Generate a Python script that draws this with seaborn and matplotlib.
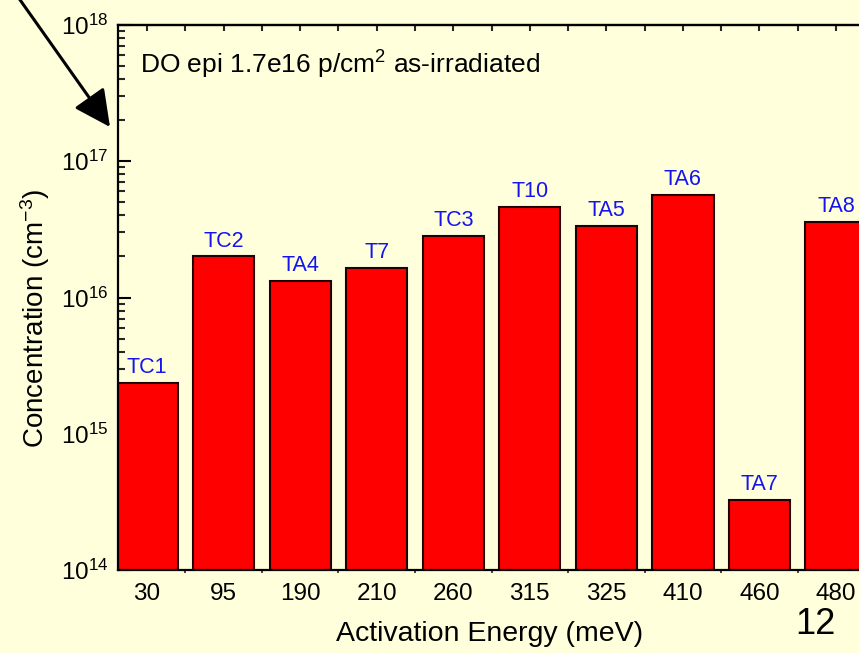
import matplotlib
matplotlib.use("Agg")
import matplotlib.pyplot as plt
import seaborn as sns
import numpy as np
from matplotlib.ticker import LogLocator, NullFormatter, FixedLocator

# ---- data ----
energies = ["30", "95", "190", "210", "260", "315", "325", "410", "460", "480"]
labels = ["TC1", "TC2", "TA4", "T7", "TC3", "T10", "TA5", "TA6", "TA7", "TA8"]
concentration = [2.35e15, 2.0e16, 1.32e16, 1.64e16, 2.82e16, 4.6e16, 3.34e16, 5.64e16, 3.26e14, 3.57e16]

BG = "#FFFFDC"
sns.set_theme(style="white")
plt.rcParams["font.family"] = ["Liberation Sans", "DejaVu Sans"]
plt.rcParams["mathtext.fontset"] = "custom"
plt.rcParams["mathtext.rm"] = "Liberation Sans"
plt.rcParams["mathtext.it"] = "Liberation Sans:italic"
plt.rcParams["mathtext.bf"] = "Liberation Sans:bold"

W, H = 859, 653
fig = plt.figure(figsize=(W / 100, H / 100), dpi=100)
fig.patch.set_facecolor(BG)
ax_left, ax_right, ax_top, ax_bottom = 118, 880, 25, 570
AW, AH = ax_right - ax_left, ax_bottom - ax_top
ax = fig.add_axes([ax_left / W, (H - ax_bottom) / H, AW / W, AH / H])
ax.set_facecolor(BG)

sns.barplot(x=energies, y=concentration, order=energies, color="#FF0000",
            saturation=1, edgecolor="#200000", linewidth=1.5, width=0.8, ax=ax)
ax.set_yscale("log")
ax.set_ylim(1e14, 1e18)
ax.set_xlim(-0.38, 9.575)

for i, (lbl, v) in enumerate(zip(labels, concentration)):
    ax.annotate(lbl, (i, v), xytext=(0, 3.5), textcoords="offset points",
                ha="center", va="bottom", color="#1414F0", fontsize=15.5)

ax.text((140 - ax_left) / AW, 1 - (65 - ax_top) / AH, "DO epi 1.7e16 p/cm$^{2}$ as-irradiated",
        transform=ax.transAxes, fontsize=19, color="black", va="center", ha="left")

# spines
for s in ["left", "bottom", "top"]:
    ax.spines[s].set_visible(True)
    ax.spines[s].set_color("black")
    ax.spines[s].set_linewidth(1.6)
ax.spines["right"].set_visible(False)

# y ticks
ax.yaxis.set_major_locator(LogLocator(base=10, numticks=10))
ax.yaxis.set_minor_locator(LogLocator(base=10, subs=np.arange(2, 10), numticks=20))
ax.yaxis.set_minor_formatter(NullFormatter())
ax.tick_params(axis="y", which="major", direction="in", length=9, width=1.5,
               labelsize=17.5, pad=7, left=True, colors="black")
ax.tick_params(axis="y", which="minor", direction="in", length=5, width=1.5, left=True)

# x ticks
ax.xaxis.set_minor_locator(FixedLocator(np.arange(-0.5, 10.5, 1.0)))
ax.tick_params(axis="x", which="major", direction="in", length=9, width=1.5,
               labelsize=17.5, pad=9, bottom=True, colors="black")
ax.tick_params(axis="x", which="minor", direction="out", length=2.5, width=1.2, bottom=True)

sec = ax.secondary_xaxis("top")
sec.set_xticks(range(len(energies)))
sec.set_xticklabels([])
sec.xaxis.set_minor_locator(FixedLocator(np.arange(-0.5, 10.5, 1.0)))
sec.tick_params(axis="x", which="both", direction="in", length=4, width=1.5, top=True)
sec.spines["top"].set_linewidth(1.6)

ax.set_xlabel("Activation Energy (meV)", fontsize=20.5, color="black")
ax.set_ylabel("Concentration (cm$^{-3}$)", fontsize=20, color="black")
ax.xaxis.set_label_coords((490 - ax_left) / AW, -(621 - ax_bottom) / AH)
ax.yaxis.set_label_coords(-(ax_left - 52) / AW, 1 - (318 - ax_top) / AH)

# slide number
fig.text(815 / W, 1 - 625 / H, "12", fontsize=26, ha="center", va="center", color="black")

# arrow
ax.annotate("", xy=(110, H - 127), xycoords="figure pixels",
            xytext=(18, H + 3), textcoords="figure pixels",
            arrowprops=dict(arrowstyle="-|>,head_length=0.9,head_width=0.45", lw=2.2,
                            color="black", mutation_scale=25, shrinkA=0, shrinkB=0),
            annotation_clip=False)

fig.savefig("out.png", dpi=100, facecolor=BG)
